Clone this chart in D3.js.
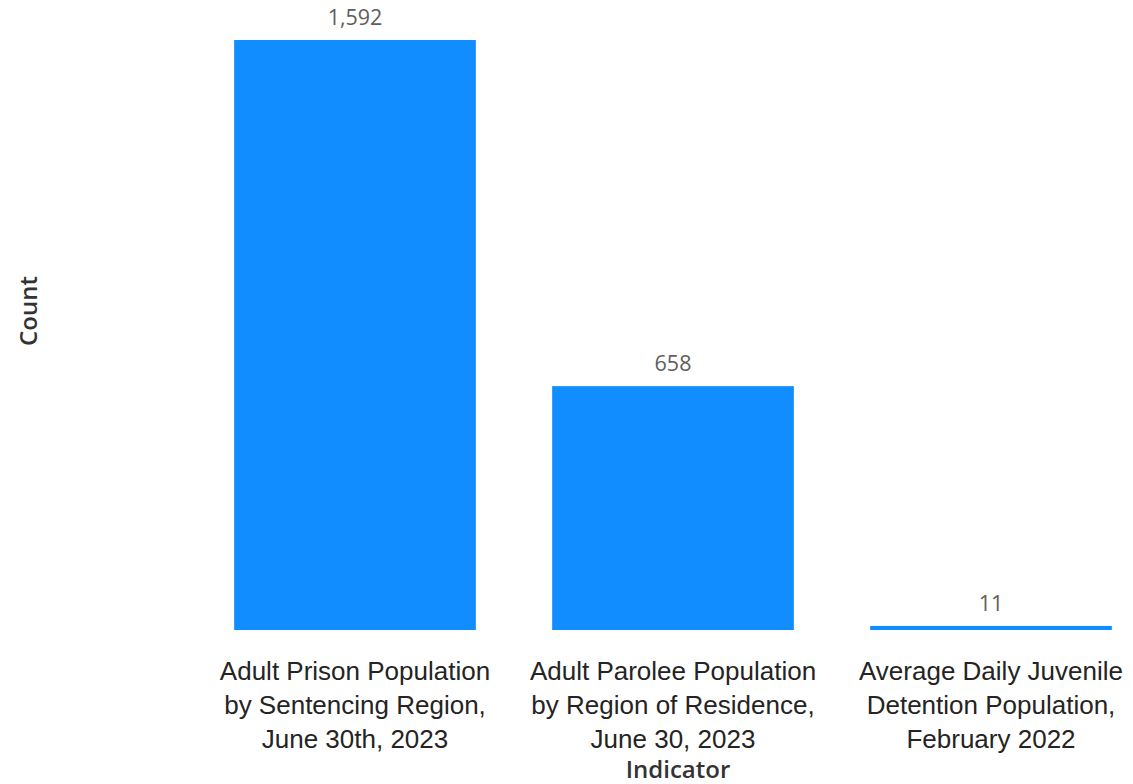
<!DOCTYPE html>
<html>
<head>
<meta charset="utf-8">
<script src="https://cdn.jsdelivr.net/npm/d3@7"></script>
<style>
  body { margin: 0; background: #fff; }
  svg { font-family: "Open Sans", "Noto Sans", sans-serif; }
</style>
</head>
<body>
<script>
// Indicator bar chart

const categories = [
    ["Adult Prison Population", "by Sentencing Region,", "June 30th, 2023"],
    ["Adult Parolee Population", "by Region of Residence,", "June 30, 2023"],
    ["Average Daily Juvenile", "Detention Population,", "February 2022"]
];
const values = [1592, 658, 11];
const xTitle = "Indicator";
const yTitle = "Count";

const width = 1133;
const height = 784;

const svg = d3.select("body")
    .append("svg")
    .attr("width", width)
    .attr("height", height);

// band scale: bars 242px wide, 318px step
const x = d3.scaleBand()
    .domain(d3.range(values.length))
    .range([196, 1150])
    .paddingInner(0.24)
    .paddingOuter(0.12);

const y = d3.scaleLinear()
    .domain([0, 1592])
    .range([630, 40]);

// bars
svg.append("g")
    .attr("fill", "#118DFF")
    .selectAll("rect")
    .data(values)
    .join("rect")
    .attr("x", (d, i) => x(i))
    .attr("y", d => y(d))
    .attr("width", x.bandwidth())
    .attr("height", d => y(0) - y(d));

// data labels
svg.append("g")
    .selectAll("text")
    .data(values)
    .join("text")
    .attr("x", (d, i) => x(i) + x.bandwidth() / 2)
    .attr("y", d => y(d) - 15)
    .attr("text-anchor", "middle")
    .attr("fill", "#605E5C")
    .style("font-size", "21.5px")
    .text(d => d3.format(",")(d));

// category labels (wrapped)
const xAxis = svg.append("g")
    .attr("transform", `translate(0,${y(0)})`)
    .call(d3.axisBottom(x).tickSize(0).tickFormat(""));
xAxis.select(".domain").remove();

xAxis.selectAll(".tick").each(function(d, i) {
    const t = d3.select(this).append("text")
        .attr("text-anchor", "middle")
        .attr("fill", "#252423")
        .style("font-size", "26px");
    categories[i].forEach((line, k) => {
        t.append("tspan")
            .attr("x", 0)
            .attr("y", 50 + k * 34)
            .text(line);
    });
});

// axis titles
svg.append("text")
    .attr("x", 678)
    .attr("y", 778)
    .attr("text-anchor", "middle")
    .attr("fill", "#333333")
    .style("font-size", "24px")
    .style("font-weight", "600")
    .text(xTitle);

svg.append("text")
    .attr("transform", "rotate(-90)")
    .attr("x", -311)
    .attr("y", 37)
    .attr("text-anchor", "middle")
    .attr("fill", "#333333")
    .style("font-size", "24px")
    .style("font-weight", "600")
    .text(yTitle);
</script>
</body>
</html>
